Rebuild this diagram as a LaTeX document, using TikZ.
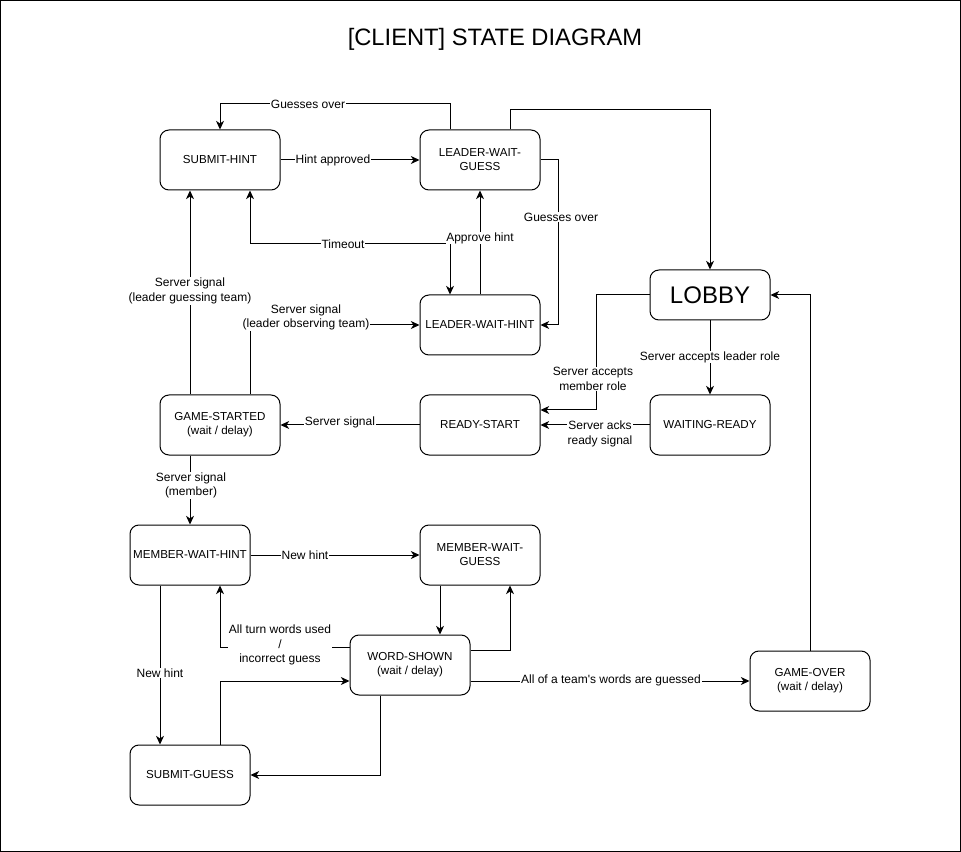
\documentclass[tikz,border=0pt]{standalone}
\usepackage{fontspec}
\setmainfont{Liberation Sans}[Ligatures=TeXOff]
\usetikzlibrary{calc,arrows.meta}
\begin{document}
\begin{tikzpicture}[x=0.75pt,y=-0.75pt,
  st/.style={draw,line width=0.75pt,rounded corners=6.75pt,minimum width=90pt,minimum height=45pt,
    align=center,inner sep=1pt,font=\fontsize{8.7}{10.5}\selectfont},
  lab/.style={fill=white,inner sep=0.6pt,align=center,font=\fontsize{9}{11}\selectfont},
  ed/.style={line width=0.75pt,-{Stealth[length=6.5pt,width=6pt,inset=2pt]}},
  edd/.style={line width=0.75pt,{Stealth[length=6.5pt,width=6pt,inset=2pt]}-{Stealth[length=6.5pt,width=6pt,inset=2pt]}}]
\useasboundingbox (0,0) rectangle (961,852);
\draw[line width=0.75pt] (0.5,0.5) rectangle (960.5,851.5);
\node[font=\fontsize{17.8}{20}\selectfont] (title) at (495,39) {[CLIENT] STATE DIAGRAM};

\node[st] (sh) at (220,160) {SUBMIT-HINT};
\node[st] (lwg) at (480,160) {LEADER-WAIT-\\GUESS};
\node[st] (lwh) at (480,325) {LEADER-WAIT-HINT};
\node[st,minimum height=37.5pt,font=\fontsize{18}{20}\selectfont] (lobby) at (710,295) {LOBBY};
\node[st] (wr) at (710,425) {WAITING-READY};
\node[st] (rs) at (480,425) {READY-START};
\node[st] (gs) at (220,425) {GAME-STARTED\\(wait / delay)};
\node[st] (mwh) at (190,555) {MEMBER-WAIT-HINT};
\node[st] (mwg) at (480,555) {MEMBER-WAIT-\\GUESS};
\node[st] (ws) at (410,665) {WORD-SHOWN\\(wait / delay)};
\node[st] (sg) at (190,775) {SUBMIT-GUESS};
\node[st] (go) at (810,681) {GAME-OVER\\(wait / delay)};

% edges
\draw[ed] ($(lwg.north)+(-30,0)$) -- ++(0,-26) -| (sh.north);
\draw[ed] (sh.east) -- (lwg.west);
\draw[ed] ($(lwg.north)+(30,0)$) |- ($(lobby.north)+(0,-160)$) -- (lobby.north);
\draw[ed] (lwg.east) -- ++(18,0) |- (lwh.east);
\draw[ed] (lwh.north) -- (lwg.south);
\draw[edd] ($(sh.south)+(30,0)$) |- ($(lwh.north)+(-30,-51)$) -- ($(lwh.north)+(-30,0)$);
\draw[ed] ($(gs.north)+(-30,0)$) -- ($(sh.south)+(-30,0)$);
\draw[ed] ($(gs.north)+(30,0)$) |- (lwh.west);
\draw[ed] (lobby.west) -| ($(rs.east)+(56,-15)$) -- ($(rs.east)+(0,-15)$);
\draw[ed] (lobby.south) -- (wr.north);
\draw[ed] (wr.west) -- (rs.east);
\draw[ed] (rs.west) -- (gs.east);
\draw[ed] ($(gs.south)+(-30,0)$) -- (mwh.north);
\draw[ed] (mwh.east) -- (mwg.west);
\draw[ed] ($(mwh.south)+(-30,0)$) -- ($(sg.north)+(-30,0)$);
\draw[ed] ($(mwg.south)+(-40,0)$) -- ($(ws.north)+(30,0)$);
\draw[ed] ($(ws.east)+(0,-15)$) -| ($(mwg.south)+(30,0)$);
\draw[ed] ($(ws.west)+(0,-18)$) -| ($(mwh.south)+(30,0)$);
\draw[ed] ($(sg.north)+(30,0)$) |- ($(ws.west)+(0,16)$);
\draw[ed] ($(ws.south)+(-30,0)$) |- (sg.east);
\draw[ed] ($(ws.east)+(0,16)$) -- (go.west);
\draw[ed] (go.north) |- (lobby.east);

% labels
\node[lab] (l1) at (308,104) {Guesses over};
\node[lab] (l2) at (333,160) {Hint approved};
\node[lab] (l3) at (561,217) {Guesses over};
\node[lab] (l4) at (480,238) {Approve hint};
\node[lab] (l5) at (343,244) {Timeout};
\node[lab] (l6) at (190,291) {Server signal\\(leader guessing team)};
\node[lab] (l7) at (306,317.5) {Server signal\\(leader observing team)};
\node[lab] (l8) at (593,379) {Server accepts\\member role};
\node[lab] (l9) at (710,357) {Server accepts leader role};
\node[lab] (l10) at (600,434) {Server acks\\ready signal};
\node[lab] (l11) at (340,422) {Server signal};
\node[lab] (l12) at (191,485.5) {Server signal\\(member)};
\node[lab] (l13) at (305,555.5) {New hint};
\node[lab] (l14) at (160,673) {New hint};
\node[lab] (l15) at (280,645) {All turn words used\\/\\incorrect guess};
\node[lab] (l16) at (611,680) {All of a team's words are guessed};
\end{tikzpicture}
\end{document}
